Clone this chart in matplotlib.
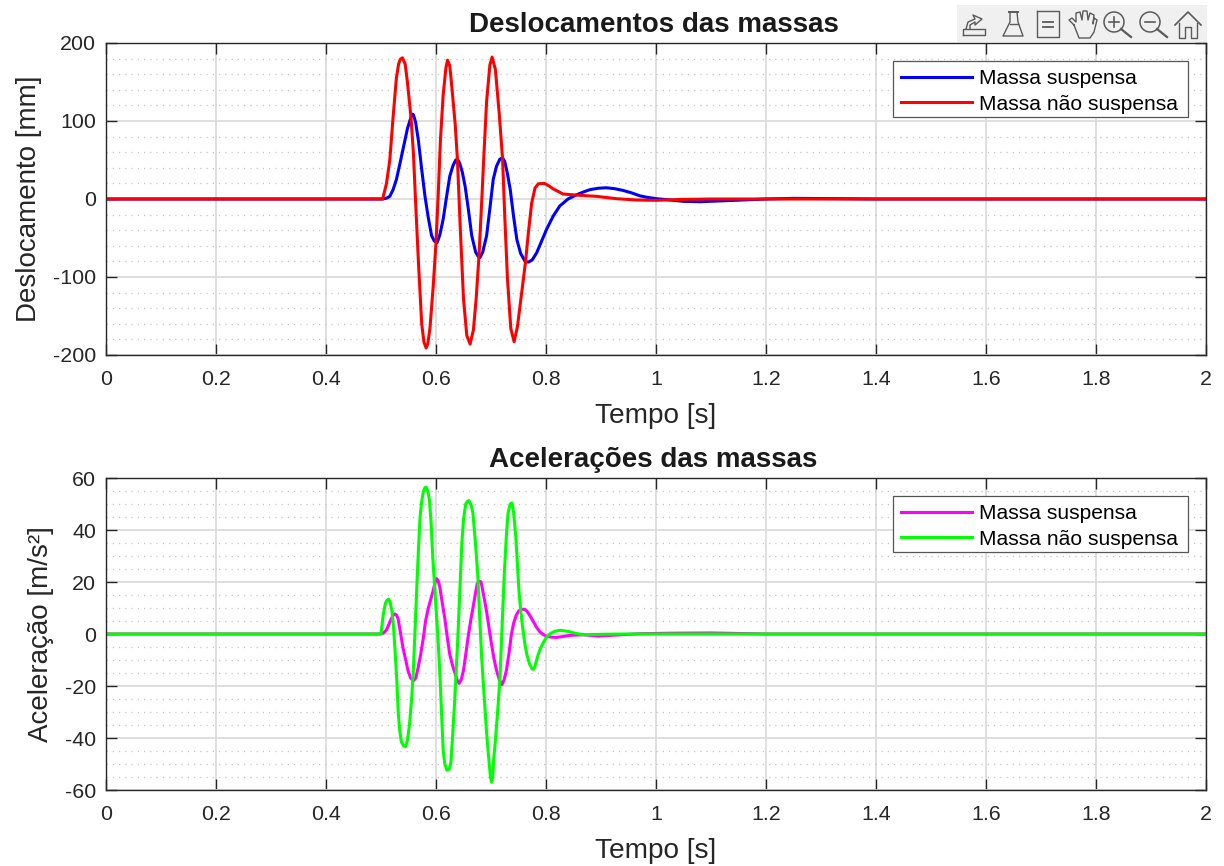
import matplotlib
matplotlib.use("Agg")
import matplotlib.pyplot as plt
from matplotlib.patches import Rectangle, Ellipse
from matplotlib.lines import Line2D
from matplotlib.ticker import MultipleLocator
from matplotlib.transforms import blended_transform_factory

plt.rcParams['font.family'] = ['Liberation Sans', 'DejaVu Sans']
plt.rcParams['axes.unicode_minus'] = False

title_top = "Deslocamentos das massas"
title_bottom = "Acelerações das massas"
xlabel = "Tempo [s]"
ylabel_top = "Deslocamento [mm]"
ylabel_bottom = "Aceleração [m/s²]"
legend_labels = ["Massa suspensa", "Massa não suspensa"]

t_disp_sprung = [0, .503, .510, .516, .522, .528, .534, .541, .548, .5545, .556, .559, .563, .568, .574, .58, .586,
                 .592, .597, .602, .607, .613, .619, .625, .631, .636, .639, .643, .648, .653, .659, .665, .672,
                 .677, .68, .685, .692, .698, .704, .71, .716, .721, .725, .73, .735, .741, .747, .754, .762, .768,
                 .775, .783, .792, .801, .813, .825, .84, .856, .868, .88, .895, .91, .925, .94, .955, .971, .985,
                 1.0, 1.05, 1.08, 1.15, 1.2, 1.25, 1.32, 1.4, 2]
disp_sprung = [0, 0, 1, 3.4, 12, 25, 44, 67, 90, 105, 109, 108, 98, 75, 38, 3.4, -24,
               -47, -54, -56, -46, -26, 2, 29, 43, 50, 51, 46, 34, 16, -14, -47, -68,
               -74, -75, -68, -47, -12, 25, 42, 51, 53, 48, 32, 12, -22, -52, -70, -80, -81,
               -78, -69, -54, -39, -22, -9, 0, 5.5, 9, 12, 13.8, 14.4, 13.2, 11, 8, 4, 2,
               .5, -3, -3.5, -1.5, 0, .8, .5, 0, 0]

t_disp_unsprung = [0, .503, .510, .516, .522, .528, .532, .535, .539, .544, .548, .5545, .559, .563, .568, .574, .578,
                   .582, .585, .589, .595, .6, .604, .608, .613, .618, .621, .625, .628, .635, .639, .644, .65, .656,
                   .662, .668, .673, .678, .683, .687, .692, .698, .702, .708, .715, .721, .725, .73, .736, .742,
                   .748, .756, .763, .768, .774, .78, .786, .797, .805, .813, .831, .856, .892, .928, .965, 1.0,
                   1.05, 1.1, 2]
disp_unsprung = [0, 0, 20, 50, 105, 155, 173, 179, 181, 173, 150, 105, 58, -5, -80, -160, -183,
                 -191, -186, -166, -111, -56, 5, 75, 133, 168, 178, 171, 150, 95, 50, -35, -128, -175,
                 -186, -168, -128, -75, -5, 55, 125, 172, 182, 166, 109, 52, -22, -103, -166, -183,
                 -164, -119, -79, -43, -5, 14, 19.5, 20, 17, 13, 6.4, 5, 3.4, .4, -1.3, -1.7,
                 -.5, 0, 0]

t_acc_sprung = [0, .5, .505, .51, .515, .519, .522, .525, .528, .531, .535, .54, .545, .549, .554, .559, .563, .567,
                .572, .577, .581, .586, .59, .595, .598, .601, .604, .607, .611, .616, .62, .625, .63, .635, .639,
                .642, .646, .65, .654, .659, .663, .668, .672, .675, .679, .682, .687, .692, .696, .701, .705, .71,
                .715, .72, .724, .728, .733, .737, .741, .746, .751, .756, .761, .765, .771, .777, .783, .789, .795,
                .801, .81, .819, .83, .844, .868, .895, .928, .971, 1.025, 1.1, 1.2, 2]
acc_sprung = [0, 0, .5, 1.6, 4, 6, 7.2, 7.7, 7.3, 6, 1, -5.3, -10, -14, -17, -18, -17, -13.5,
              -8, -1.5, 5, 9.9, 13, 16.8, 19.5, 21.3, 20.5, 18, 12.5, 6, -.5, -7.8, -12, -15.4, -18,
              -19, -17.5, -14, -8, -.3, 5, 11, 16, 19.4, 20.3, 20, 14.5, 8.6, 3, -4, -9, -14,
              -17.5, -19.5, -17.5, -14, -7, -.3, 4, 7.3, 9, 9.5, 9.5, 8.9, 7, 4.8, 2.5, .8, -.2,
              -.9, -1.2, -1.3, -1, -.5, -.3, -.8, -.4, .1, .3, .4, 0, 0]

t_acc_unsprung = [0, .5, .504, .508, .511, .514, .517, .52, .523, .526, .529, .5315, .534, .537, .541, .545, .548,
                  .552, .556, .559, .562, .565, .568, .571, .574, .577, .58, .582, .585, .588, .591, .594, .597, .6,
                  .604, .607, .61, .613, .616, .62, .624, .627, .63, .634, .637, .64, .644, .647, .65, .654, .657,
                  .66, .664, .667, .671, .676, .68, .683, .687, .692, .696, .699, .701, .703, .705, .708, .712, .716,
                  .72, .724, .728, .731, .735, .738, .741, .745, .748, .751, .754, .757, .761, .765, .77, .775, .778,
                  .78, .783, .786, .79, .795, .8, .807, .815, .825, .835, .844, .855, .868, .904, .947, 2]
acc_unsprung = [0, 0, 7.3, 11.8, 13, 13.4, 12, 8.6, 2, -7.8, -19, -30.6, -37, -41.4, -43, -43.3, -41,
                -34.4, -24, -13, 2, 17.5, 32, 45, 51, 54.8, 56.3, 56.5, 55, 51.6, 43, 30, 20, 10,
                -3, -15, -30, -44.6, -50, -52.4, -52, -49.6, -40, -25.6, -13, 0, 20, 35, 44, 50, 51,
                51.3, 49.5, 46.6, 37, 22.5, 4, -9, -22, -38, -48, -55, -57, -55, -48, -40.8, -30, -18,
                2, 22.5, 38, 46.6, 50, 50.4, 47, 37.7, 27, 16, 9, 3.5, -3, -7.8, -11.5, -13.5, -13.5,
                -12.3, -10, -7.8, -5.5, -3.4, -1.5, 0, 1, 1.4, 1.2, .8, .2, -.3, -.1, 0, 0]

W, H = 1224, 866
fig = plt.figure(figsize=(W / 100, H / 100), dpi=100, facecolor='white')
INK = '#262626'
tf = fig.transFigure


def px_axes(left, top, right, bottom):
    return fig.add_axes([left / W, 1 - bottom / H, (right - left) / W, (bottom - top) / H])


def style(ax, ylim, major, minor, title, ylabel, ylabel_x):
    ax.set_xlim(0, 2)
    ax.set_ylim(*ylim)
    ax.xaxis.set_major_locator(MultipleLocator(0.2))
    ax.yaxis.set_major_locator(MultipleLocator(major))
    ax.yaxis.set_minor_locator(MultipleLocator(minor))
    ax.xaxis.set_major_formatter(lambda v, p: f"{v:g}")
    ax.grid(True, which='major', color='#dcdcdc', lw=1.3, zorder=0)
    ax.grid(True, which='minor', axis='y', color='#c4c4c4', lw=0.9, linestyle=(0, (1, 4)), zorder=0)
    ax.set_axisbelow(True)
    ax.tick_params(which='major', direction='in', length=8, width=1, color=INK, top=True, right=True,
                   labelsize=15.4, labelcolor=INK)
    ax.tick_params(axis='x', which='major', pad=11)
    ax.tick_params(axis='y', which='major', pad=7)
    ax.tick_params(which='minor', direction='in', length=0)
    for s in ax.spines.values():
        s.set_color(INK)
        s.set_linewidth(1)
    ax.set_title(title, fontsize=20.0, fontweight='bold', color='#1a1a1a', pad=8, x=0.4978)
    ax.set_xlabel(xlabel, fontsize=20.2, color=INK, labelpad=10)
    ax.set_ylabel(ylabel, fontsize=20.0, color=INK)
    ax.yaxis.set_label_coords(ylabel_x, 0.5, transform=blended_transform_factory(tf, ax.transAxes))


def legend(ax, top):
    ax.add_patch(Rectangle((893 / W, 1 - (top + 74) / H), 295 / W, 56 / H, transform=tf, clip_on=False,
                           facecolor='white', edgecolor='#555555', lw=0.9, zorder=4.9))
    ax.legend(loc='upper left', bbox_to_anchor=(901 / W, 1 - (top + 26) / H), bbox_transform=tf, fontsize=15.1,
              frameon=False, handlelength=3.39, handletextpad=0.33, labelspacing=0.31, borderpad=0,
              borderaxespad=0, labelcolor='black')


ax1 = px_axes(106, 43, 1206, 355)
ax2 = px_axes(106, 478, 1206, 790)

style(ax1, (-200, 200), 100, 20, title_top, ylabel_top, 42 / W)
ax1.plot(t_disp_sprung, disp_sprung, color='#0000ff', lw=2.2, label=legend_labels[0], solid_joinstyle='round')
ax1.plot(t_disp_unsprung, disp_unsprung, color='#ff0000', lw=2.2, label=legend_labels[1], solid_joinstyle='round')
legend(ax1, 43)

style(ax2, (-60, 60), 20, 5, title_bottom, ylabel_bottom, 54 / W)
ax2.plot(t_acc_sprung, acc_sprung, color='#ff00ff', lw=2.2, label=legend_labels[0], solid_joinstyle='round')
ax2.plot(t_acc_unsprung, acc_unsprung, color='#00ff00', lw=2.2, label=legend_labels[1], solid_joinstyle='round')
legend(ax2, 478)


# Axes toolbar, drawn in figure pixels
def P(x, y):
    return (x / W, 1 - y / H)


def line(pts, lw=1.0, c='#5a5a5a'):
    xs, ys = zip(*[P(*p) for p in pts])
    fig.add_artist(Line2D(xs, ys, transform=tf, color=c, lw=lw, zorder=6))


fig.add_artist(Rectangle(P(957, 42), 250 / W, 37 / H, transform=tf, facecolor='#f0f0f0', edgecolor='none', zorder=5))
# edit
line([(963, 35), (985, 35), (985, 29), (963, 29), (963, 35)])
line([(966, 29), (968, 22), (975, 19), (973, 15), (982, 19), (975, 25), (975, 22), (970, 25), (970, 29)])
# brush
line([(1009, 12), (1018, 12)], 1.4)
line([(1010, 12), (1010, 22), (1003, 36), (1023, 36), (1018, 22), (1017, 12)])
line([(1010, 24), (1018, 24)])
# insert legend
line([(1037, 11), (1059, 11), (1059, 37), (1037, 37), (1037, 11)])
line([(1043, 22), (1053, 22)], 1.3)
line([(1043, 27), (1053, 27)], 1.3)
# hand
line([(1074, 25), (1069, 20), (1072, 18), (1076, 22), (1076, 13), (1080, 12), (1082, 20), (1083, 11), (1087, 11),
      (1088, 20), (1090, 13), (1094, 15), (1093, 24), (1094, 18), (1097, 20), (1094, 32), (1090, 38), (1079, 38),
      (1074, 25)])
# zoom in / out
for cx, inner in ((1114, True), (1150, False)):
    fig.add_artist(Ellipse(P(cx, 22), 20 / W, 20 / H, transform=tf, fill=False, edgecolor='#5a5a5a', lw=1.1, zorder=6))
    line([(cx + 7, 29), (cx + 17, 37)], 1.6)
    line([(cx - 5, 22), (cx + 5, 22)], 1.2)
    if inner:
        line([(cx, 17), (cx, 27)], 1.2)
# home
line([(1175, 25), (1188, 12), (1201, 25)], 1.2)
line([(1179, 23), (1179, 38), (1185, 38), (1185, 27), (1191, 27), (1191, 38), (1197, 38), (1197, 23)])

fig.savefig('out.png', dpi=100)
